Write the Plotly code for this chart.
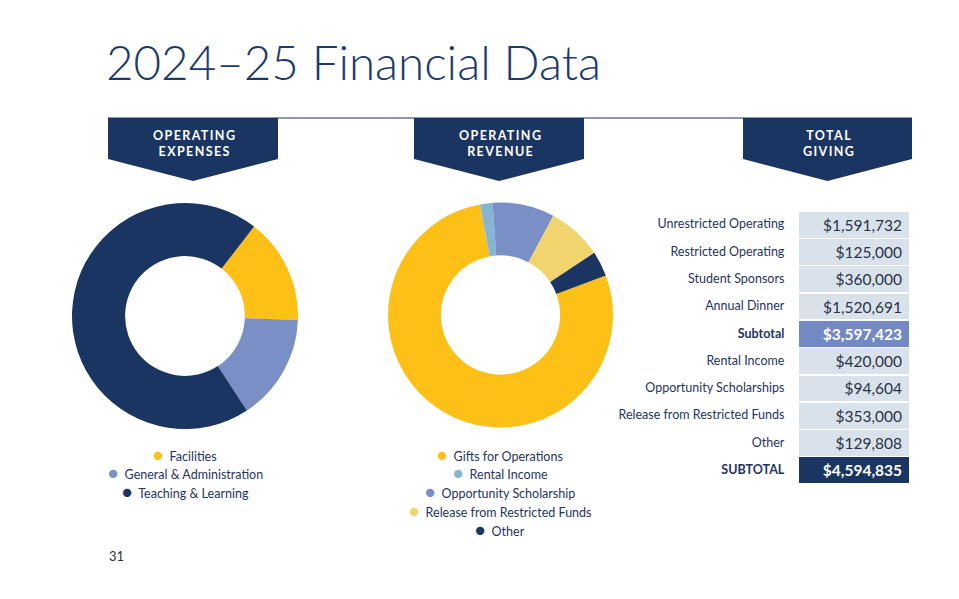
import plotly.graph_objects as go

W, H = 959, 599

# ---------------- data ----------------
exp_labels = ["Facilities", "General & Administration", "Teaching & Learning"]
exp_values = [15.1, 15.2, 69.7]
exp_colors = ["#fcc017", "#7b8fc7", "#1b3563"]

rev_labels = ["Gifts for Operations", "Rental Income", "Opportunity Scholarship",
              "Release from Restricted Funds", "Other"]
rev_values = [77.8, 1.8, 8.9, 7.9, 3.6]
rev_colors = ["#fcc017", "#86b5d3", "#7b8fc7", "#f1d46e", "#1b3563"]

giving_labels = ["Unrestricted Operating", "Restricted Operating", "Student Sponsors",
                 "Annual Dinner", "Subtotal", "Rental Income", "Opportunity Scholarships",
                 "Release from Restricted Funds", "Other", "SUBTOTAL"]
giving_values = [1591732, 125000, 360000, 1520691, 3597423, 420000, 94604, 353000,
                 129808, 4594835]
giving_kind = ["row", "row", "row", "row", "sub", "row", "row", "row", "row", "total"]

banner_titles = ["OPERATING<br>EXPENSES", "OPERATING<br>REVENUE", "TOTAL<br>GIVING"]

NAVY = "#1b3563"
TXT = "#1f3461"
FONT = "Lato"


def px(x):
    return x / W


def py(y):
    return 1 - y / H


fig = go.Figure()

# ---------------- donuts ----------------
fig.add_trace(go.Pie(
    labels=exp_labels, values=exp_values, sort=False, direction="clockwise",
    rotation=37.7, hole=0.53, textinfo="none", hoverinfo="label+percent",
    marker=dict(colors=exp_colors, line=dict(width=0)), showlegend=False,
    domain=dict(x=[px(72), px(298)], y=[py(429), py(203)]),
))
fig.add_trace(go.Pie(
    labels=rev_labels, values=rev_values, sort=False, direction="clockwise",
    rotation=69.4, hole=0.53, textinfo="none", hoverinfo="label+percent",
    marker=dict(colors=rev_colors, line=dict(width=0)), showlegend=False,
    domain=dict(x=[px(388), px(613)], y=[py(427.5), py(202.5)]),
))

# ---------------- table (two stacked layers: regular rows + bold subtotal rows) ----
def fmt(v):
    return "${:,}".format(v)

reg_lab, reg_val, bold_lab, bold_val, fills, val_colors = [], [], [], [], [], []
for l, v, k in zip(giving_labels, giving_values, giving_kind):
    if k == "row":
        reg_lab.append(l); reg_val.append(fmt(v))
        bold_lab.append(""); bold_val.append("")
        fills.append("#d9e2eb")
        val_colors.append("#2a3346")
    else:
        reg_lab.append(""); reg_val.append("")
        bold_lab.append(l); bold_val.append(fmt(v))
        fills.append("#7389c4" if k == "sub" else NAVY)
        val_colors.append("white")

n = len(giving_labels)
CLEAR = "rgba(0,0,0,0)"
table_domain = dict(x=[px(585), px(911)], y=[py(505), py(195)])
colw = [208, 6, 112]

fig.add_trace(go.Table(
    domain=table_domain, columnwidth=colw,
    header=dict(values=[], height=0, fill_color=CLEAR, line_color=CLEAR),
    cells=dict(
        values=[reg_lab, [""] * n, reg_val],
        height=27.3,
        align=["right", "right", "right"],
        fill_color=[[CLEAR] * n, [CLEAR] * n, fills],
        line=dict(color=[CLEAR, CLEAR, "white"], width=1.5),
        font=dict(family=FONT, size=[12.5, 12.5, 15.5],
                  color=[TXT, TXT, "#2a3346"], weight="normal"),
    ),
))
fig.add_trace(go.Table(
    domain=table_domain, columnwidth=colw,
    header=dict(values=[], height=0, fill_color=CLEAR, line_color=CLEAR),
    cells=dict(
        values=[bold_lab, [""] * n, bold_val],
        height=27.3,
        align=["right", "right", "right"],
        fill_color=CLEAR,
        line=dict(color=CLEAR, width=1.5),
        font=dict(family=FONT, size=[12.5, 12.5, 15.5],
                  color=[TXT, TXT, "white"], weight="bold"),
    ),
))

# ---------------- layout decorations ----------------
shapes = [dict(type="line", xref="paper", yref="paper", x0=px(108), x1=px(912),
               y0=py(118), y1=py(118), line=dict(color=NAVY, width=1.2))]
banners = [(108, 278), (414, 584), (743, 912)]
annotations = []
for (x0, x1), t in zip(banners, banner_titles):
    xm = (x0 + x1) / 2
    path = "M {a},{t} L {b},{t} L {b},{s} L {m},{p} L {a},{s} Z".format(
        a=px(x0), b=px(x1), t=py(118), s=py(159), m=px(xm), p=py(181))
    shapes.append(dict(type="path", xref="paper", yref="paper", path=path,
                       fillcolor=NAVY, line=dict(width=0)))
    annotations.append(dict(xref="paper", yref="paper", x=px(xm + 1), y=py(143.5),
                            text='<span style="letter-spacing:1.4px"><b>' + t + "</b></span>",
                            showarrow=False,
                            font=dict(family=FONT, size=12.5, color="white"),
                            xanchor="center", yanchor="middle"))

# title
annotations.append(dict(xref="paper", yref="paper", x=px(103.5), y=py(61.5),
                        text="2024–25 Financial Data", showarrow=False,
                        xanchor="left", yanchor="middle",
                        font=dict(family=FONT, size=47.5, color="#1d3a6c", weight=300)))
# page number
annotations.append(dict(xref="paper", yref="paper", x=px(107), y=py(556),
                        text="31", showarrow=False, xanchor="left", yanchor="middle",
                        font=dict(family=FONT, size=13, color="#333333")))

# legends (centered under each donut)
def add_legend(labels, colors, xc, y0, step):
    for i, (l, c) in enumerate(zip(labels, colors)):
        annotations.append(dict(
            xref="paper", yref="paper", x=px(xc), y=py(y0 + i * step),
            text='<span style="color:%s;font-size:17px">●</span>  %s' % (c, l),
            showarrow=False, xanchor="center", yanchor="middle",
            font=dict(family=FONT, size=12.5, color=TXT)))

add_legend(exp_labels, exp_colors, 185, 454, 18.5)
add_legend(rev_labels, rev_colors, 500, 454, 18.75)

fig.update_layout(
    width=W, height=H, margin=dict(l=0, r=0, t=0, b=0),
    paper_bgcolor="white", plot_bgcolor="white",
    shapes=shapes, annotations=annotations,
    font=dict(family=FONT),
)

fig.write_html("out.html", config={"displayModeBar": False},
               post_script="document.body.style.margin='0';")
